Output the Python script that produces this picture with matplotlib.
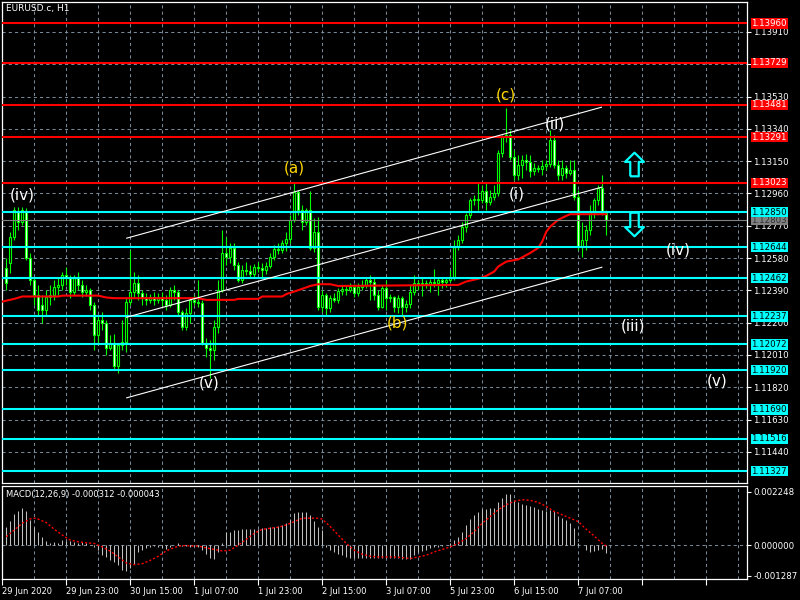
import matplotlib
matplotlib.use('Agg')
import matplotlib.pyplot as plt
from matplotlib import transforms
from matplotlib.path import Path

# EURUSD.c H1 K线数据（第1根到第151根）
opens = [1.12522, 1.12552, 1.12705, 1.12852, 1.12793, 1.12852, 1.12581, 1.12452, 1.12364, 1.12305,
         1.12275, 1.12352, 1.12364, 1.12411, 1.12422, 1.12481, 1.12464, 1.12381, 1.12469, 1.12422,
         1.12381, 1.12393, 1.12305, 1.12128, 1.12217, 1.12199, 1.12052, 1.12081, 1.11946, 1.12069,
         1.12087, 1.12322, 1.12381, 1.12434, 1.12375, 1.12346, 1.12334, 1.12352, 1.12334, 1.12352,
         1.12334, 1.12305, 1.12393, 1.12381, 1.12264, 1.12175, 1.12258, 1.12334, 1.12322, 1.12317,
         1.12081, 1.12052, 1.12040, 1.12175, 1.12393, 1.12610, 1.12587, 1.12640, 1.12540, 1.12452,
         1.12511, 1.12505, 1.12487, 1.12528, 1.12522, 1.12511, 1.12534, 1.12587, 1.12634, 1.12628,
         1.12669, 1.12693, 1.12805, 1.12969, 1.12863, 1.12793, 1.12863, 1.12640, 1.12734, 1.12293,
         1.12364, 1.12287, 1.12346, 1.12334, 1.12387, 1.12399, 1.12393, 1.12411, 1.12375, 1.12411,
         1.12422, 1.12452, 1.12440, 1.12364, 1.12293, 1.12405, 1.12346, 1.12352, 1.12293, 1.12346,
         1.12293, 1.12311, 1.12381, 1.12434, 1.12428, 1.12434, 1.12428, 1.12440, 1.12434, 1.12452,
         1.12440, 1.12452, 1.12469, 1.12646, 1.12687, 1.12763, 1.12834, 1.12922, 1.12928, 1.12922,
         1.12975, 1.12910, 1.12940, 1.12963, 1.13199, 1.13293, 1.13304, 1.13175, 1.13069, 1.13128,
         1.13157, 1.13146, 1.13093, 1.13110, 1.13104, 1.13122, 1.13134, 1.13275, 1.13128, 1.13069,
         1.13110, 1.13081, 1.13099, 1.12940, 1.12646, 1.12687, 1.12746, 1.12852, 1.12922, 1.12993,
         1.12846]
highs = [1.12581, 1.12734, 1.12881, 1.12881, 1.12881, 1.12875, 1.12610, 1.12464, 1.12422, 1.12364,
         1.12393, 1.12422, 1.12452, 1.12464, 1.12499, 1.12528, 1.12481, 1.12481, 1.12499, 1.12452,
         1.12422, 1.12405, 1.12322, 1.12246, 1.12264, 1.12217, 1.12128, 1.12134, 1.12075, 1.12217,
         1.12346, 1.12628, 1.12499, 1.12481, 1.12393, 1.12375, 1.12369, 1.12381, 1.12375, 1.12381,
         1.12364, 1.12411, 1.12422, 1.12393, 1.12275, 1.12287, 1.12346, 1.12364, 1.12452, 1.12334,
         1.12111, 1.12099, 1.12217, 1.12452, 1.12746, 1.12705, 1.12669, 1.12669, 1.12558, 1.12540,
         1.12558, 1.12540, 1.12546, 1.12558, 1.12552, 1.12558, 1.12610, 1.12658, 1.12669, 1.12687,
         1.12734, 1.12834, 1.13022, 1.12981, 1.12893, 1.12875, 1.12975, 1.12816, 1.12822, 1.12393,
         1.12375, 1.12364, 1.12375, 1.12405, 1.12422, 1.12422, 1.12434, 1.12428, 1.12434, 1.12452,
         1.12469, 1.12481, 1.12464, 1.12393, 1.12422, 1.12452, 1.12369, 1.12358, 1.12364, 1.12358,
         1.12334, 1.12422, 1.12481, 1.12452, 1.12464, 1.12452, 1.12458, 1.12516, 1.12469, 1.12464,
         1.12469, 1.12511, 1.12687, 1.12716, 1.12793, 1.12846, 1.12934, 1.12952, 1.13022, 1.13010,
         1.13022, 1.12981, 1.13010, 1.13216, 1.13304, 1.13463, 1.13333, 1.13216, 1.13187, 1.13187,
         1.13193, 1.13187, 1.13140, 1.13128, 1.13157, 1.13157, 1.13333, 1.13304, 1.13157, 1.13157,
         1.13128, 1.13157, 1.13157, 1.12981, 1.12793, 1.12775, 1.12893, 1.12934, 1.13010, 1.13069,
         1.12863]
lows = [1.12393, 1.12493, 1.12687, 1.12746, 1.12775, 1.12569, 1.12422, 1.12305, 1.12246, 1.12199,
        1.12246, 1.12305, 1.12334, 1.12364, 1.12393, 1.12422, 1.12346, 1.12364, 1.12393, 1.12352,
        1.12358, 1.12275, 1.12040, 1.12069, 1.12158, 1.12011, 1.12040, 1.11923, 1.11905, 1.12040,
        1.12028, 1.12305, 1.12352, 1.12334, 1.12305, 1.12305, 1.12317, 1.12305, 1.12317, 1.12299,
        1.12275, 1.12293, 1.12334, 1.12246, 1.12158, 1.12158, 1.12199, 1.12305, 1.12293, 1.12069,
        1.11999, 1.11876, 1.11981, 1.12140, 1.12381, 1.12540, 1.12552, 1.12511, 1.12440, 1.12434,
        1.12481, 1.12464, 1.12469, 1.12499, 1.12469, 1.12487, 1.12522, 1.12569, 1.12605, 1.12610,
        1.12622, 1.12669, 1.12793, 1.12834, 1.12746, 1.12775, 1.12628, 1.12616, 1.12275, 1.12264,
        1.12246, 1.12264, 1.12322, 1.12317, 1.12364, 1.12364, 1.12381, 1.12352, 1.12358, 1.12393,
        1.12405, 1.12334, 1.12334, 1.12275, 1.12287, 1.12275, 1.12322, 1.12264, 1.12258, 1.12246,
        1.12264, 1.12287, 1.12364, 1.12393, 1.12358, 1.12405, 1.12381, 1.12411, 1.12364, 1.12405,
        1.12411, 1.12440, 1.12452, 1.12628, 1.12669, 1.12734, 1.12816, 1.12893, 1.12863, 1.12905,
        1.12863, 1.12893, 1.12922, 1.12946, 1.13175, 1.13263, 1.13157, 1.13040, 1.13040, 1.13052,
        1.13099, 1.13057, 1.13069, 1.13087, 1.13069, 1.13099, 1.13116, 1.13110, 1.13040, 1.13040,
        1.13052, 1.13069, 1.12922, 1.12628, 1.12587, 1.12628, 1.12716, 1.12816, 1.12893, 1.12834,
        1.12716]
closes = [1.12434, 1.12705, 1.12863, 1.12793, 1.12863, 1.12581, 1.12452, 1.12364, 1.12275, 1.12275,
          1.12352, 1.12364, 1.12411, 1.12422, 1.12481, 1.12464, 1.12381, 1.12469, 1.12422, 1.12381,
          1.12393, 1.12305, 1.12128, 1.12217, 1.12199, 1.12052, 1.12081, 1.11946, 1.12069, 1.12087,
          1.12322, 1.12381, 1.12434, 1.12375, 1.12346, 1.12334, 1.12352, 1.12334, 1.12352, 1.12334,
          1.12305, 1.12393, 1.12381, 1.12264, 1.12175, 1.12258, 1.12334, 1.12322, 1.12317, 1.12081,
          1.12052, 1.12040, 1.12175, 1.12393, 1.12610, 1.12587, 1.12640, 1.12540, 1.12452, 1.12511,
          1.12505, 1.12487, 1.12528, 1.12522, 1.12511, 1.12534, 1.12587, 1.12634, 1.12628, 1.12669,
          1.12693, 1.12805, 1.12969, 1.12863, 1.12793, 1.12863, 1.12640, 1.12734, 1.12293, 1.12364,
          1.12287, 1.12346, 1.12334, 1.12387, 1.12399, 1.12393, 1.12411, 1.12375, 1.12411, 1.12422,
          1.12452, 1.12440, 1.12364, 1.12293, 1.12405, 1.12346, 1.12352, 1.12293, 1.12346, 1.12293,
          1.12311, 1.12381, 1.12434, 1.12428, 1.12434, 1.12428, 1.12440, 1.12434, 1.12452, 1.12440,
          1.12452, 1.12469, 1.12646, 1.12687, 1.12763, 1.12834, 1.12922, 1.12928, 1.12922, 1.12975,
          1.12910, 1.12940, 1.12963, 1.13199, 1.13293, 1.13304, 1.13175, 1.13069, 1.13128, 1.13157,
          1.13146, 1.13093, 1.13110, 1.13104, 1.13122, 1.13134, 1.13275, 1.13128, 1.13069, 1.13110,
          1.13081, 1.13099, 1.12940, 1.12646, 1.12687, 1.12746, 1.12852, 1.12922, 1.12993, 1.12846,
          1.12803]
bars = list(range(1, len(closes) + 1))

# 均线（红线）读数
ma_bars = [0, 3, 5, 14, 15, 24, 26, 28, 49, 51, 58, 59, 64, 65, 70, 71, 73, 75, 77, 79,
           82, 84, 114, 116, 119, 121, 123, 124, 126, 129, 132, 134, 135, 136, 137, 139, 141, 142, 151]
ma_vals = [1.12324, 1.12340, 1.12354, 1.12354, 1.12359, 1.12359, 1.12348, 1.12344, 1.12344, 1.12334,
           1.12334, 1.12340, 1.12340, 1.12354, 1.12354, 1.12368, 1.12383, 1.12399, 1.12416, 1.12426,
           1.12426, 1.12416, 1.12422, 1.12442, 1.12458, 1.12475, 1.12501, 1.12530, 1.12559, 1.12572,
           1.12610, 1.12640, 1.12677, 1.12734, 1.12765, 1.12805, 1.12828, 1.12838, 1.12838]

# MACD 主线（柱）
macd_main = [0.000776, 0.001030, 0.001302, 0.001412, 0.001556, 0.001412, 0.001060, 0.000776, 0.000564, 0.000326,
             0.000170, 0.000098, 0.000114, 0.000098, 0.000212, 0.000182, 0.000170, 0.000140, 0.000098, 0.000127,
             0.000072, 0.000005, -0.000072, -0.000212, -0.000424, -0.000496, -0.000606, -0.000708, -0.000848, -0.001060,
             -0.001090, -0.000946, -0.000776, -0.000284, -0.000212, -0.000140, -0.000072, -0.000042, -0.000072, -0.000140,
             -0.000182, -0.000072, -0.000010, 0.000072, -0.000030, -0.000042, -0.000072, -0.000030, -0.000072, -0.000212,
             -0.000352, -0.000522, -0.000594, -0.000284, 0.000072, 0.000564, 0.000564, 0.000636, 0.000636, 0.000666,
             0.000666, 0.000666, 0.000666, 0.000691, 0.000708, 0.000734, 0.000750, 0.000776, 0.000806, 0.000848,
             0.000920, 0.001090, 0.001344, 0.001370, 0.001386, 0.001370, 0.001272, 0.001030, 0.000776, 0.000636,
             -0.000072, -0.000212, -0.000284, -0.000352, -0.000424, -0.000496, -0.000522, -0.000538, -0.000538, -0.000538,
             -0.000538, -0.000538, -0.000538, -0.000538, -0.000538, -0.000538, -0.000538, -0.000538, -0.000538, -0.000564,
             -0.000564, -0.000564, -0.000424, -0.000284, -0.000242, -0.000212, -0.000140, -0.000098, -0.000072, -0.000042,
             0.000010, 0.000072, 0.000212, 0.000352, 0.000564, 0.000848, 0.001090, 0.001272, 0.001370, 0.001514,
             0.001514, 0.001556, 0.001556, 0.001794, 0.001980, 0.002162, 0.002162, 0.001878, 0.001794, 0.001738,
             0.001696, 0.001654, 0.001598, 0.001514, 0.001454, 0.001412, 0.001484, 0.001412, 0.001230, 0.001132,
             0.001060, 0.000920, 0.000708, 0.000072, 0.000010, -0.000212, -0.000284, -0.000242, -0.000212, -0.000182,
             -0.000312]

# MACD 信号线（红色点线）
sig_bars = [1, 3, 5, 7, 8, 9, 11, 13, 15, 17, 19, 21, 23, 25, 27, 29, 31, 33, 35, 37,
            39, 41, 43, 45, 47, 49, 51, 53, 55, 57, 59, 61, 63, 65, 67, 69, 71, 73, 75, 77,
            79, 80, 82, 84, 86, 88, 90, 92, 94, 96, 98, 100, 102, 104, 106, 108, 110, 112, 114, 116,
            118, 120, 122, 124, 126, 128, 130, 132, 134, 136, 138, 140, 142, 144, 146, 148, 150, 151]
sig_vals = [0.000352, 0.000636, 0.000920, 0.001102, 0.001130, 0.001090, 0.000946, 0.000666, 0.000424, 0.000212,
            0.000140, 0.000098, 0.000072, -0.000072, -0.000254, -0.000496, -0.000750, -0.000820, -0.000776, -0.000636,
            -0.000466, -0.000242, -0.000098, -0.000014, -0.000030, -0.000042, -0.000114, -0.000182, -0.000242, -0.000212,
            0.000000, 0.000242, 0.000496, 0.000666, 0.000708, 0.000750, 0.000848, 0.000988, 0.001130, 0.001130,
            0.001130, 0.001090, 0.000776, 0.000424, 0.000072, -0.000212, -0.000382, -0.000466, -0.000496, -0.000496,
            -0.000496, -0.000522, -0.000564, -0.000496, -0.000424, -0.000284, -0.000182, -0.000072, 0.000072, 0.000284,
            0.000564, 0.000920, 0.001200, 0.001484, 0.001696, 0.001836, 0.001908, 0.001878, 0.001794, 0.001624,
            0.001412, 0.001272, 0.001130, 0.000988, 0.000666, 0.000382, 0.000072, -0.000043]

# 水平线
red_levels = [1.13960, 1.13729, 1.13481, 1.13291, 1.13023]
cyan_levels = [1.12850, 1.12644, 1.12462, 1.12237, 1.12072, 1.11920, 1.11690, 1.11516, 1.11327]
bid = 1.12803

price_ticks = [1.13910, 1.13720, 1.13530, 1.13340, 1.13150, 1.12960, 1.12770, 1.12580,
               1.12390, 1.12200, 1.12010, 1.11820, 1.11630, 1.11440]
time_bars = [0, 16, 32, 48, 64, 80, 96, 112, 128, 144]
time_labels = ['29 Jun 2020', '29 Jun 23:00', '30 Jun 15:00', '1 Jul 07:00', '1 Jul 23:00',
               '2 Jul 15:00', '3 Jul 07:00', '5 Jul 23:00', '6 Jul 15:00', '7 Jul 07:00']

# 通道线 (起点bar, 起点价, 终点bar, 终点价)
channels = [(31.1, 1.12697, 149.8, 1.13467),
            (31.1, 1.12232, 149.9, 1.12997),
            (31.1, 1.11758, 149.9, 1.12526)]

# 波浪标注
waves = [('(iv)', 4.9, 1.12951, 'white'), ('(a)', 73.0, 1.13110, 'gold'),
         ('(c)', 125.9, 1.13539, 'gold'), ('(ii)', 138.2, 1.13369, 'white'),
         ('(i)', 128.7, 1.12957, 'white'), ('(b)', 98.7, 1.12198, 'gold'),
         ('(v)', 51.7, 1.11845, 'white'), ('(iv)', 168.9, 1.12628, 'white'),
         ('(iii)', 157.7, 1.12181, 'white'), ('(v)', 178.7, 1.11857, 'white')]

grid_c = '#778899'
green = '#00ff00'

fig = plt.figure(figsize=(8, 6), dpi=100, facecolor='black')
ax = fig.add_axes([2 / 800, 1 - 483 / 600, 745 / 800, 481 / 600], facecolor='black')
ax2 = fig.add_axes([2 / 800, 1 - 579 / 600, 745 / 800, 93 / 600], facecolor='black')

# ---------- 主图 ----------
ax.set_xlim(-0.075, 186.2)
ax.set_ylim(1.11257, 1.14086)
ax.set_axisbelow(True)
ax.set_xticks(range(8, 187, 8))
ax.tick_params(axis='x', length=0, labelbottom=False)
ax.yaxis.tick_right()
ax.set_yticks(price_ticks)
# 1.13720 被红色标签完全挡住
ax.set_yticklabels(['' if p == 1.13720 else f'{p:.5f}' for p in price_ticks])
ax.tick_params(axis='y', colors='white', labelsize=6.2, length=3, width=0.8, pad=1.5)
ax.grid(True, color=grid_c, linestyle=(0, (3, 3)), linewidth=0.75)
for s in ax.spines.values():
    s.set_color('white')
    s.set_linewidth(0.9)

# 蜡烛
ax.vlines(bars, lows, highs, color=green, linewidth=0.8, zorder=3)
bottoms = [min(o, c) for o, c in zip(opens, closes)]
heights = [max(abs(c - o), 0.000008) for o, c in zip(opens, closes)]
faces = ['black' if c > o else 'white' for o, c in zip(opens, closes)]
ax.bar(bars, heights, bottom=bottoms, width=0.55, color=faces, edgecolor=green, linewidth=0.8, zorder=3.2)

# 均线
ax.plot(ma_bars, ma_vals, color='red', linewidth=1.5, zorder=3.5)

# 水平线
for lv in red_levels:
    ax.axhline(lv, color='red', linewidth=1.5, zorder=4)
for lv in cyan_levels:
    ax.axhline(lv, color='#00ffff', linewidth=1.5, zorder=4)
ax.axhline(bid, color='#808080', linewidth=0.8, zorder=3.8)

# 通道线
for x0, y0, x1, y1 in channels:
    ax.plot([x0, x1], [y0, y1], color='white', linewidth=0.8, zorder=4.5)

# 波浪标签
for txt, x, y, col in waves:
    ax.text(x, y, txt, color=col, fontsize=11, ha='center', va='center', zorder=6)

# 箭头（空心，青色）
up_arrow = Path([(-0.18, -0.5), (0.18, -0.5), (0.18, 0.11), (0.4, 0.11), (0.0, 0.5),
                 (-0.4, 0.11), (-0.18, 0.11), (-0.18, -0.5)])
down_arrow = Path([(x, -y) for x, y in up_arrow.vertices])
ax.plot([157.9], [1.13136], marker=up_arrow, markersize=17, markerfacecolor='none',
        markeredgecolor='#00ffff', markeredgewidth=1.6, linestyle='none', zorder=6)
ax.plot([157.9], [1.12778], marker=down_arrow, markersize=17, markerfacecolor='none',
        markeredgecolor='#00ffff', markeredgewidth=1.6, linestyle='none', zorder=6)

# 右侧价格标签
trans = transforms.blended_transform_factory(ax.transAxes, ax.transData)
box_pad = 'square,pad=0.08'
ax.text(1.006, bid, f'{bid:.5f}', transform=trans, color='#303030', fontsize=6.2, ha='left', va='center',
        bbox=dict(boxstyle=box_pad, fc='#808080', ec='none'), clip_on=False, zorder=9)
for lv in red_levels:
    ax.text(1.006, lv, f'{lv:.5f}', transform=trans, color='white', fontsize=6.2, ha='left', va='center',
            bbox=dict(boxstyle=box_pad, fc='red', ec='none'), clip_on=False, zorder=10)
for lv in cyan_levels:
    ax.text(1.006, lv, f'{lv:.5f}', transform=trans, color='black', fontsize=6.2, ha='left', va='center',
            bbox=dict(boxstyle=box_pad, fc='#00ffff', ec='none'), clip_on=False, zorder=10)

fig.text(6 / 800, 1 - 9 / 600, 'EURUSD.c, H1', color='white', fontsize=6.5, va='center', ha='left')

# ---------- MACD 副图 ----------
ax2.set_xlim(-0.075, 186.2)
ax2.set_ylim(-0.00142, 0.00248)
ax2.set_axisbelow(True)
ax2.set_xticks(range(0, 187, 16))
ax2.set_xticklabels(time_labels + [''] * (len(range(0, 187, 16)) - len(time_labels)))
ax2.set_xticks(range(8, 187, 16), minor=True)
ax2.tick_params(axis='x', which='major', colors='white', labelsize=6, length=4, width=0.8, pad=2)
ax2.tick_params(axis='x', which='minor', length=0)
for lbl in ax2.get_xticklabels():
    lbl.set_horizontalalignment('left')
ax2.grid(True, axis='x', which='both', color=grid_c, linestyle=(0, (3, 3)), linewidth=0.75)
ax2.axhline(0, color=grid_c, linestyle=(0, (3, 3)), linewidth=0.75, zorder=1)
ax2.yaxis.tick_right()
ax2.set_yticks([0.002248, 0.0, -0.001287])
ax2.set_yticklabels(['0.002248', '0.000000', '-0.001287'])
ax2.tick_params(axis='y', colors='white', labelsize=6.2, length=3, width=0.8, pad=1.5)
for s in ax2.spines.values():
    s.set_color('white')
    s.set_linewidth(0.9)

ax2.vlines(bars, 0, macd_main, color='#c0c0c0', linewidth=0.75, zorder=3)
ax2.plot(sig_bars, sig_vals, color='red', linestyle=(0, (1.5, 1.5)), linewidth=1.0, zorder=4)

fig.text(6 / 800, 1 - 495 / 600, 'MACD(12,26,9) -0.000312 -0.000043', color='white', fontsize=6,
         va='center', ha='left')

plt.savefig('out.png', dpi=100, facecolor='black')
